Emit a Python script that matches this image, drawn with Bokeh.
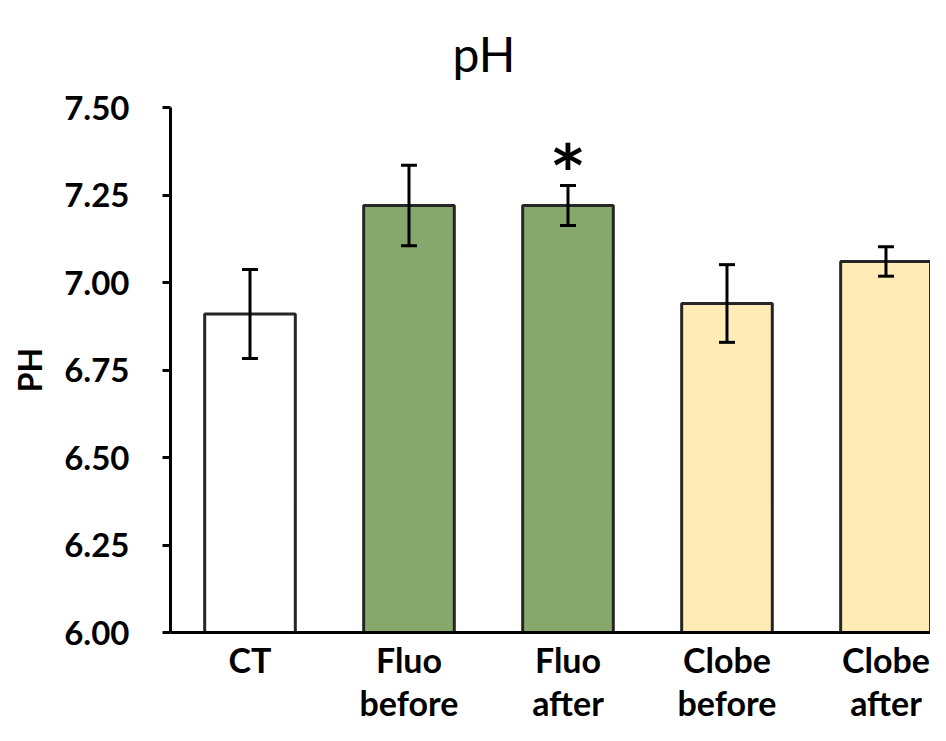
from bokeh.plotting import figure
from bokeh.models import Range1d, FixedTicker, Whisker, ColumnDataSource, TeeHead, NumeralTickFormatter
from bokeh.core.properties import value
from bokeh.embed import file_html
from bokeh.resources import INLINE

categories = ["CT", "Fluo\nbefore", "Fluo\nafter", "Clobe\nbefore", "Clobe\nafter"]
ph_mean = [6.91, 7.22, 7.22, 6.94, 7.06]
ph_err = [0.127, 0.115, 0.057, 0.111, 0.042]
sig_mark = "*"
sig_index = [2]
bar_colors = ["#FFFFFF", "#86A86C", "#86A86C", "#FFEBB6", "#FFEBB6"]
y_ticks = [6.00, 6.25, 6.50, 6.75, 7.00, 7.25, 7.50]
y_min, y_max = 6.0, 7.5

xs = [i + 0.5 for i in range(len(categories))]
upper = [m + e for m, e in zip(ph_mean, ph_err)]
lower = [m - e for m, e in zip(ph_mean, ph_err)]
src = ColumnDataSource(dict(x=xs, top=ph_mean, upper=upper, lower=lower, color=bar_colors))
sig_src = ColumnDataSource(dict(x=[xs[i] for i in sig_index], y=[upper[i] for i in sig_index],
                                t=[sig_mark for _ in sig_index]))

FONT = "Lato"

p = figure(width=930, height=725, output_backend="svg", toolbar_location=None,
           x_range=Range1d(0, 4.78), y_range=Range1d(y_min, y_max),
           min_border_left=170, min_border_right=0, min_border_top=107, min_border_bottom=93)

p.vbar(x="x", top="top", bottom=y_min, width=0.57, fill_color="color",
       line_color="#262626", line_width=3, source=src)

wh = Whisker(base="x", upper="upper", lower="lower", source=src,
             line_width=3, line_color="black", level="overlay",
             upper_head=TeeHead(size=16, line_width=3, line_color="black"),
             lower_head=TeeHead(size=16, line_width=3, line_color="black"))
p.add_layout(wh)

p.text(x="x", y="y", text="t", source=sig_src, text_align="center",
       text_baseline="alphabetic", y_offset=-20, text_font_size="58px",
       text_font=value("DejaVu Sans"), text_font_style="bold", text_color="black")

p.title.text = "pH"
p.title.text_font = FONT
p.title.text_font_style = "normal"
p.title.text_font_size = "48px"
p.title.text_color = "black"
p.title.text_line_height = 1.0
p.title.align = "left"
p.title.offset = 282
p.title.vertical_align = "top"
p.title.standoff = 48

p.grid.grid_line_color = None
p.outline_line_color = None

p.yaxis.ticker = FixedTicker(ticks=y_ticks)
p.yaxis.formatter = NumeralTickFormatter(format="0.00")
p.yaxis.minor_tick_line_color = None
p.yaxis.major_tick_in = 0
p.yaxis.major_tick_out = 8
p.yaxis.major_tick_line_width = 3
p.yaxis.axis_line_width = 3
p.yaxis.major_label_text_font = FONT
p.yaxis.major_label_text_font_style = "bold"
p.yaxis.major_label_text_font_size = "33px"
p.yaxis.major_label_text_color = "black"
p.yaxis.major_label_standoff = 33
p.yaxis.axis_label = "PH"
p.yaxis.axis_label_text_font = FONT
p.yaxis.axis_label_text_font_style = "bold"
p.yaxis.axis_label_text_font_size = "32px"
p.yaxis.axis_label_text_color = "black"
p.yaxis.axis_label_standoff = 12

p.xaxis.ticker = FixedTicker(ticks=xs)
p.xaxis.major_label_overrides = {x: c for x, c in zip(xs, categories)}
p.xaxis.major_tick_line_color = None
p.xaxis.minor_tick_line_color = None
p.xaxis.axis_line_width = 3
p.xaxis.major_label_text_font = FONT
p.xaxis.major_label_text_font_style = "bold"
p.xaxis.major_label_text_font_size = "34px"
p.xaxis.major_label_text_line_height = 1.05
p.xaxis.major_label_text_color = "black"
p.xaxis.major_label_standoff = 0

open("out.html", "w").write(file_html(p, INLINE))
